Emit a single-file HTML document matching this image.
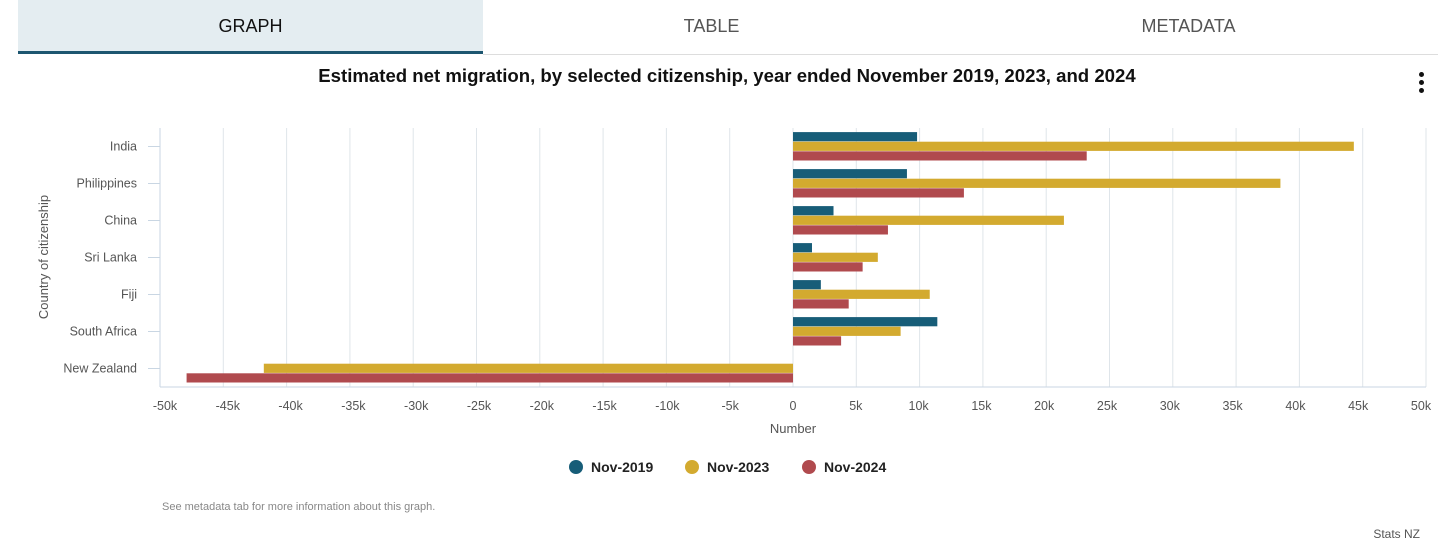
<!DOCTYPE html>
<html><head><meta charset="utf-8"><style>
body{margin:0;width:1456px;height:548px;background:#fff;font-family:"Liberation Sans",sans-serif;overflow:hidden;position:relative}
.tab{position:absolute;top:0;height:53px;line-height:53px;text-align:center;font-size:18px;color:#555}
</style></head><body>
<div class="tab" style="left:18px;width:465px;background:#e4edf1;color:#111;border-bottom:3px solid #1d5670;height:51px">GRAPH</div>
<div class="tab" style="left:483px;width:457px">TABLE</div>
<div class="tab" style="left:940px;width:497px">METADATA</div>
<div style="position:absolute;left:483px;top:54px;width:955px;height:1px;background:#ddd"></div>
<div style="position:absolute;left:1419px;top:72px;width:6px">
<div style="width:5px;height:5px;border-radius:50%;background:#111;margin-bottom:3px"></div><div style="width:5px;height:5px;border-radius:50%;background:#111;margin-bottom:3px"></div><div style="width:5px;height:5px;border-radius:50%;background:#111"></div></div>
<svg id="chart" width="1456" height="548" style="position:absolute;left:0;top:0" font-family="Liberation Sans, sans-serif">
<text x="727" y="82" text-anchor="middle" font-size="18.6" font-weight="bold" fill="#111">Estimated net migration, by selected citizenship, year ended November 2019, 2023, and 2024</text>
<g id="grid"></g><g id="bars"></g><g id="axes"></g>
<text x="793" y="433" text-anchor="middle" font-size="13" fill="#555">Number</text>
<text transform="translate(48,257) rotate(-90)" text-anchor="middle" font-size="13" fill="#555">Country of citizenship</text>
<g id="legend"></g>
<text x="162" y="510" font-size="11" fill="#888">See metadata tab for more information about this graph.</text>
<text x="1420" y="538" text-anchor="end" font-size="12" fill="#555">Stats NZ</text>
</svg>
<script>
const categories=["India","Philippines","China","Sri Lanka","Fiji","South Africa","New Zealand"];
const seriesNames=["Nov-2019","Nov-2023","Nov-2024"];
const nov2019=[9.8,9.0,3.2,1.5,2.2,11.4,0];
const nov2023=[44.3,38.5,21.4,6.7,10.8,8.5,-41.8];
const nov2024=[23.2,13.5,7.5,5.5,4.4,3.8,-47.9];
const xTicks=[-50,-45,-40,-35,-30,-25,-20,-15,-10,-5,0,5,10,15,20,25,30,35,40,45,50];
const colors=["#175d78","#d3aa2f","#b04a4e"];
const NS="http://www.w3.org/2000/svg";
const L=160,R=1426,T=128,B=387;
const x=v=>L+(v+50)/100*(R-L);
const band=(B-T)/categories.length;
const y=i=>T+band*i+band/2;
function mk(tag,attrs,parent){const e=document.createElementNS(NS,tag);for(const k in attrs)e.setAttribute(k,attrs[k]);parent.appendChild(e);return e;}
const grid=document.getElementById('grid'),bars=document.getElementById('bars'),axes=document.getElementById('axes'),legend=document.getElementById('legend');
xTicks.forEach(t=>{
 if(t!==-50){const g=mk('line',{x1:x(t),x2:x(t),y1:T,y2:B,stroke:'#dfe5ea','stroke-width':1},grid);
 
 }
 const lb=mk('text',{x:x(t)-t*0.1,y:410,'text-anchor':'middle','font-size':12.5,fill:'#555'},axes);
 lb.textContent=t===0?'0':t+'k';
 
 
});
const ya=mk('line',{x1:L,x2:L,y1:T,y2:B,stroke:'#c9d6e3'},axes);


const xa=mk('line',{x1:L,x2:R,y1:B,y2:B,stroke:'#c9d6e3'},axes);


const series=[nov2019,nov2023,nov2024];
const bh=9.6;
categories.forEach((c,i)=>{
 const tk=mk('line',{x1:L-12,x2:L,y1:y(i),y2:y(i),stroke:'#c9d6e3'},axes);
 
 
 const lb=mk('text',{x:137,y:y(i)+4,'text-anchor':'end','font-size':12.5,fill:'#555'},axes);
 lb.textContent=c;
 
 
 series.forEach((s,j)=>{
  const v=s[i];if(v===0)return;
  const x0=Math.min(x(0),x(v)),w=Math.abs(x(v)-x(0));
  const r=mk('rect',{x:x0,y:y(i)-1.5*bh+j*bh,width:w,height:bh-0.4,fill:colors[j]},bars);
  
  
 });
});
const lx=[576,692,809];
seriesNames.forEach((n,j)=>{
 const g=mk('g',{},legend);
 
 
 mk('circle',{cx:lx[j],cy:467,r:7,fill:colors[j]},g);
 const t=mk('text',{x:lx[j]+15,y:472,'font-size':14,'font-weight':'bold',fill:'#222'},g);
 t.textContent=n;
});
</script>
</body></html>
